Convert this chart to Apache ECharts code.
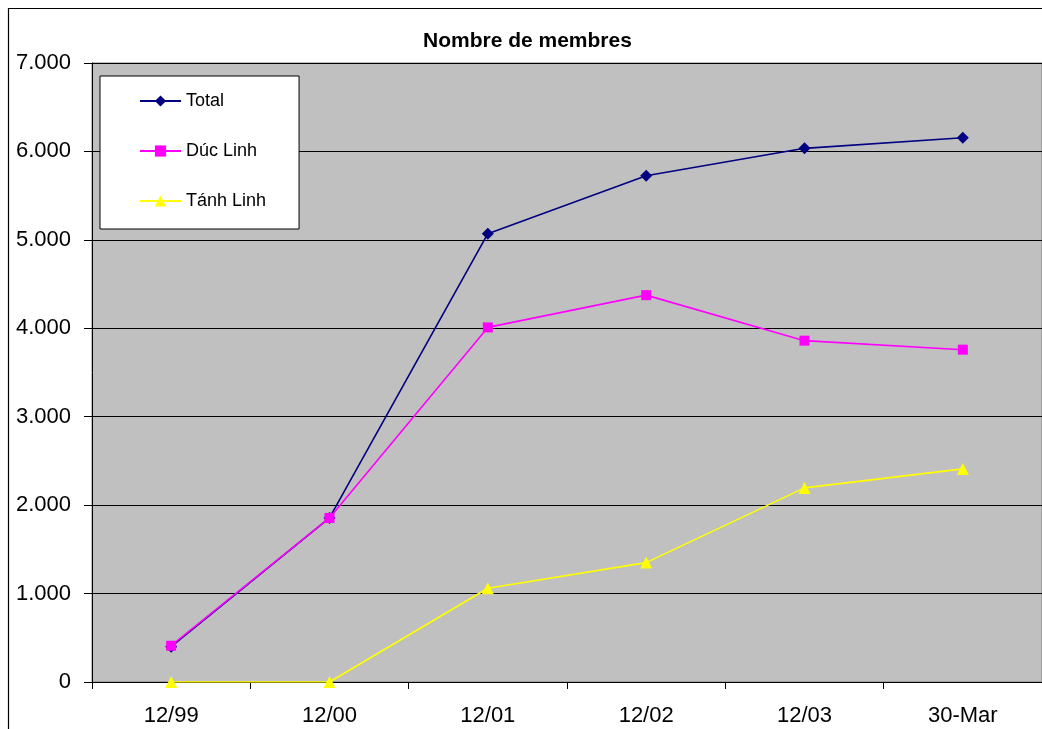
<!DOCTYPE html>
<html>
<head>
<meta charset="utf-8">
<script src="https://cdn.jsdelivr.net/npm/echarts@6/dist/echarts.min.js"></script>
<style>
html,body{margin:0;padding:0;background:#fff;}
#chart{width:1042px;height:729px;}
</style>
</head>
<body>
<div id="chart"></div>
<script>
var categories = ['12/99', '12/00', '12/01', '12/02', '12/03', '30-Mar'];
var totalValues = [400, 1855, 5070, 5725, 6035, 6155];
var ducLinhValues = [410, 1855, 4010, 4375, 3860, 3758];
var tanhLinhValues = [0, 0, 1060, 1350, 2195, 2410];
var yTicks = [0, 1000, 2000, 3000, 4000, 5000, 6000, 7000];
var titleText = 'Nombre de membres';

var FONT = '"Liberation Sans", Arial, sans-serif';

function fmt(v) {
  if (v === 0) return '0';
  var s = String(Math.round(v));
  return s.replace(/\B(?=(\d{3})+(?!\d))/g, '.');
}

var chart = echarts.init(document.getElementById('chart'), null, {renderer: 'canvas'});
var option = {
  animation: false,
  backgroundColor: '#ffffff',
  title: {
    text: titleText,
    left: 423,
    top: 31,
    padding: 0,
    textStyle: {fontFamily: FONT, fontSize: 21, fontWeight: 'bold', color: '#000'}
  },
  graphic: [{
    type: 'rect',
    z: 100,
    silent: true,
    shape: {x: 8.5, y: 8.5, width: 1100, height: 800},
    style: {fill: null, stroke: '#000', lineWidth: 1.2}
  }],
  legend: {
    orient: 'vertical',
    left: 100,
    top: 76,
    padding: [16, 33, 19, 39],
    itemGap: 32,
    itemWidth: 41,
    itemHeight: 14,
    backgroundColor: '#ffffff',
    borderColor: '#000',
    borderWidth: 1,
    textStyle: {fontFamily: FONT, fontSize: 18, color: '#000', lineHeight: 18},
    data: ['Total', 'Dúc Linh', 'Tánh Linh']
  },
  grid: {
    left: 92,
    top: 63,
    right: 0,
    bottom: 47,
    show: true,
    backgroundColor: '#C0C0C0',
    borderColor: '#808080',
    borderWidth: 1
  },
  xAxis: {
    type: 'category',
    data: categories,
    boundaryGap: true,
    axisLine: {show: true, lineStyle: {color: '#000', width: 1}},
    axisTick: {show: true, length: 7, lineStyle: {color: '#000'}},
    axisLabel: {fontFamily: FONT, fontSize: 22, color: '#000', margin: 23},
    splitLine: {show: false}
  },
  yAxis: {
    type: 'value',
    min: yTicks[0],
    max: yTicks[yTicks.length - 1],
    interval: 1000,
    axisLine: {show: true, lineStyle: {color: '#000', width: 1}},
    axisTick: {show: true, length: 8, lineStyle: {color: '#000'}},
    axisLabel: {fontFamily: FONT, fontSize: 22, color: '#000', margin: 21, formatter: fmt},
    splitLine: {show: true, lineStyle: {color: '#000', width: 1}}
  },
  series: [
    {
      name: 'Total',
      type: 'line',
      data: totalValues,
      symbol: 'diamond',
      symbolSize: 12,
      color: '#000080',
      lineStyle: {color: '#000080', width: 1.6},
      itemStyle: {color: '#000080'}
    },
    {
      name: 'Dúc Linh',
      type: 'line',
      data: ducLinhValues,
      symbol: 'rect',
      symbolSize: 10,
      color: '#FF00FF',
      lineStyle: {color: '#FF00FF', width: 1.6},
      itemStyle: {color: '#FF00FF'}
    },
    {
      name: 'Tánh Linh',
      type: 'line',
      data: tanhLinhValues,
      symbol: 'triangle',
      symbolSize: 12,
      color: '#FFFF00',
      lineStyle: {color: '#FFFF00', width: 1.6},
      itemStyle: {color: '#FFFF00'}
    }
  ]
};
chart.setOption(option);
</script>
</body>
</html>
